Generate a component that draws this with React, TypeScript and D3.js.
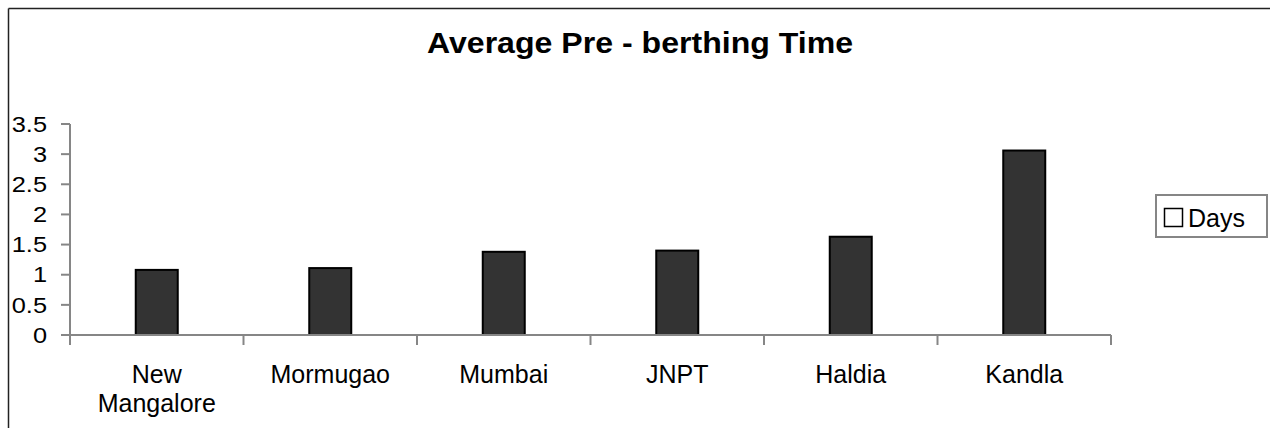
import React from "react";
import * as d3 from "d3";

const categories: string[][] = [["New", "Mangalore"], ["Mormugao"], ["Mumbai"], ["JNPT"], ["Haldia"], ["Kandla"]];
const days: number[] = [1.08, 1.11, 1.38, 1.40, 1.63, 3.06];
const yTicks: number[] = [0, 0.5, 1, 1.5, 2, 2.5, 3, 3.5];
const yTickLabels: string[] = ["0", "0.5", "1", "1.5", "2", "2.5", "3", "3.5"];
const title = "Average Pre - berthing Time";
const seriesName = "Days";

const FONT = "'Liberation Sans', Arial, sans-serif";

export default function App() {
  const W = 1270, H = 428;
  const x0 = 70, x1 = 1111, yBase = 335, yTop = 124;
  const keys = categories.map((_, i) => String(i));
  const x = d3.scaleBand<string>().domain(keys).range([x0, x1]).paddingInner(0).paddingOuter(0);
  const y = d3.scaleLinear().domain([0, 3.5]).range([yBase, yTop]);
  const bw = 42;
  const bounds = keys.map((k) => x(k)!).concat([x1]);
  const axisColor = "#868686";
  const labelRight = 47;

  return (
    <svg width={W} height={H} style={{ position: "absolute", left: 0, top: 0, background: "#fff" }} fontFamily={FONT}>
      <rect x={0} y={0} width={W} height={H} fill="#fff" />
      {/* chart border */}
      <line x1={8.5} y1={8.5} x2={W} y2={8.5} stroke="#222" strokeWidth={1.5} />
      <line x1={8.5} y1={8.5} x2={8.5} y2={H} stroke="#222" strokeWidth={1.5} />
      <g transform="translate(640,53) scale(1.07,1)">
        <text x={0} y={0} textAnchor="middle" fontWeight="bold" fontSize={30} fill="#000">{title}</text>
      </g>

      {/* bars */}
      {days.map((v, i) => {
        const cx = x(keys[i])! + x.bandwidth() / 2;
        return (
          <rect key={i} x={cx - bw / 2} y={y(v)} width={bw} height={yBase - y(v)} fill="#333333" stroke="#000" strokeWidth={2} />
        );
      })}

      {/* y axis */}
      <line x1={x0} y1={yTop} x2={x0} y2={yBase + 10} stroke={axisColor} strokeWidth={2} />
      {yTicks.map((t, i) => (
        <g key={i}>
          <line x1={x0 - 9} x2={x0} y1={y(t)} y2={y(t)} stroke={axisColor} strokeWidth={2} />
          <g transform={`translate(${labelRight},${y(t)}) scale(1.18,1)`}>
            <text x={0} y={0} dy="0.36em" textAnchor="end" fontSize={21.5} fill="#000">{yTickLabels[i]}</text>
          </g>
        </g>
      ))}

      {/* x axis */}
      <line x1={x0} y1={yBase} x2={x1} y2={yBase} stroke={axisColor} strokeWidth={2} />
      {bounds.map((b, i) => (
        <line key={i} x1={b} x2={b} y1={yBase} y2={yBase + 10} stroke={axisColor} strokeWidth={2} />
      ))}
      {categories.map((lines, i) => {
        const cx = x(keys[i])! + x.bandwidth() / 2;
        return (
          <text key={i} x={cx} y={383} textAnchor="middle" fontSize={25} fill="#000">
            {lines.map((l, j) => (
              <tspan key={j} x={cx} dy={j === 0 ? 0 : 28.5}>{l}</tspan>
            ))}
          </text>
        );
      })}

      {/* legend */}
      <rect x={1156} y={195} width={111} height={42} fill="#fff" stroke={axisColor} strokeWidth={2} />
      <rect x={1164.5} y={208.5} width={18} height={18} fill="#fff" stroke="#000" strokeWidth={1.5} />
      <text x={1188} y={226.5} fontSize={25} fill="#000">{seriesName}</text>
    </svg>
  );
}
